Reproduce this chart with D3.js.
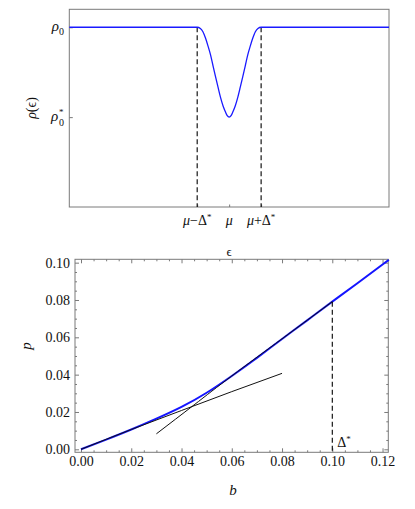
<!DOCTYPE html>
<html>
<head>
<meta charset="utf-8">
<script src="https://cdn.jsdelivr.net/npm/d3@7"></script>
<style>
  body { margin: 0; background: #fff; }
  svg text { font-family: "Liberation Serif", "Times New Roman", Times, "DejaVu Serif", serif; fill: #111; }
</style>
</head>
<body>
<svg id="graph" width="415" height="509"></svg>
<script>
(function() {

// ---- top panel: rho(eps), eps in units of Delta* around mu, rho0 = 1, rho0* = 0.5
const epsVals = [-5, -1, -0.9, -0.82, -0.74, -0.66, -0.58, -0.51, -0.43, -0.35, -0.27, -0.19, -0.12, -0.06, 0,
                 0.06, 0.12, 0.19, 0.27, 0.35, 0.43, 0.51, 0.58, 0.66, 0.74, 0.82, 0.9, 1, 5];
const rhoVals = [1, 1, 0.993, 0.975, 0.94, 0.895, 0.845, 0.79, 0.728, 0.668, 0.61, 0.562, 0.531, 0.508, 0.5,
                 0.508, 0.531, 0.562, 0.61, 0.668, 0.728, 0.79, 0.845, 0.895, 0.94, 0.975, 0.993, 1, 1];
const epsTicks = [-1, 0, 1];
const rhoTicks = [0.5, 1];

// ---- bottom panel: p(b)
const bVals = [0, 0.01, 0.02, 0.03, 0.04, 0.05, 0.06, 0.07, 0.08, 0.09, 0.10, 0.11, 0.12, 0.1225];
const pVals = [0, 0.0052, 0.0106, 0.0164, 0.0227, 0.0303, 0.0393, 0.0490, 0.0591, 0.0691, 0.0791, 0.0890, 0.0990, 0.1015];
const lowB = [0, 0.02, 0.04, 0.06, 0.08];
const lowP = [0, 0.0106, 0.0208, 0.0309, 0.0407];
const highB = [0.03, 0.045, 0.06, 0.08, 0.10];
const highP = [0.0083, 0.0238, 0.0393, 0.0592, 0.0791];
const deltaStar = 0.10;
const bTicks = [0, 0.02, 0.04, 0.06, 0.08, 0.10, 0.12];
const pTicks = [0, 0.02, 0.04, 0.06, 0.08, 0.10];

const svg = d3.select('#graph');
const frameColor = '#7a7a7a';
const serif = '"Liberation Serif", "Times New Roman", Times, "DejaVu Serif", serif';
const fmt = d3.format('.2f');

// ================= top panel =================
const tx = d3.scaleLinear().domain([-5, 5]).range([69.3, 389]);
const ty = d3.scaleLinear().domain([0, 1.1]).range([207, 9.3]);

const top = svg.append('g');

top.append('rect')
  .attr('x', tx.range()[0]).attr('y', ty.range()[1])
  .attr('width', tx.range()[1] - tx.range()[0])
  .attr('height', ty.range()[0] - ty.range()[1])
  .attr('fill', 'none').attr('stroke', frameColor).attr('stroke-width', 1);

top.append('g')
  .attr('transform', `translate(0,${ty.range()[0]})`)
  .call(d3.axisBottom(tx).tickValues(epsTicks).tickSize(-2.5).tickFormat(''))
  .call(g => g.select('.domain').remove())
  .selectAll('line').attr('stroke', frameColor);

top.append('g')
  .attr('transform', `translate(${tx.range()[0]},0)`)
  .call(d3.axisLeft(ty).tickValues(rhoTicks).tickSize(-3.5).tickFormat(''))
  .call(g => g.select('.domain').remove())
  .selectAll('line').attr('stroke', frameColor);

// dashed markers at mu +/- Delta*
top.selectAll('.vdash')
  .data([-1, 1])
  .enter().append('line')
    .attr('x1', d => tx(d)).attr('x2', d => tx(d))
    .attr('y1', ty(1)).attr('y2', ty.range()[0])
    .attr('stroke', '#000').attr('stroke-width', 1.1)
    .attr('stroke-dasharray', '5,3');

const rhoLine = d3.line()
  .x((d, i) => tx(epsVals[i]))
  .y(d => ty(d))
  .curve(d3.curveMonotoneX);

top.append('path')
  .datum(rhoVals)
  .attr('d', rhoLine)
  .attr('fill', 'none').attr('stroke', '#1a1aff').attr('stroke-width', 1.3);

// eps tick labels
const epsLabels = [
  {v: -1, parts: [['μ', 'italic'], ['−Δ', 'normal'], ['*', 'sup']]},
  {v: 0, parts: [['μ', 'italic']]},
  {v: 1, parts: [['μ', 'italic'], ['+Δ', 'normal'], ['*', 'sup']]}
];
epsLabels.forEach(l => {
  const t = top.append('text')
    .attr('x', tx(l.v)).attr('y', 225)
    .attr('text-anchor', 'middle').style('font-size', '14px');
  l.parts.forEach(p => {
    const s = t.append('tspan').text(p[0]);
    if (p[1] === 'italic') s.style('font-style', 'italic');
    if (p[1] === 'sup') s.style('font-size', '9px').attr('dy', -5);
  });
});

// rho tick labels
top.append('text')
  .attr('x', 64).attr('y', ty(1) + 4)
  .attr('text-anchor', 'end').style('font-size', '15px')
  .call(t => {
    t.append('tspan').text('ρ').style('font-style', 'italic');
    t.append('tspan').text('0').style('font-size', '10px').attr('dy', 4);
  });

top.append('text')
  .attr('x', 51).attr('y', ty(0.5) + 4)
  .style('font-size', '15px').style('font-style', 'italic')
  .text('ρ');
top.append('text')
  .attr('x', 59).attr('y', ty(0.5) + 9)
  .style('font-size', '10px')
  .text('0');
top.append('text')
  .attr('x', 59).attr('y', ty(0.5) - 2.5)
  .style('font-size', '9px')
  .text('*');

top.append('text')
  .attr('transform', 'translate(36,108) rotate(-90)')
  .attr('text-anchor', 'middle').style('font-size', '14px')
  .call(t => {
    t.append('tspan').text('ρ').style('font-style', 'italic');
    t.append('tspan').text('(ϵ)');
  });

top.append('text')
  .attr('x', tx(0)).attr('y', 256)
  .attr('text-anchor', 'middle').style('font-size', '13px')
  .text('ϵ');

// ================= bottom panel =================
const x = d3.scaleLinear().domain([-0.00239, 0.12229]).range([75, 388.3]);
const y = d3.scaleLinear().domain([-0.0016, 0.1018]).range([452.3, 259.3]);

const bot = svg.append('g');

bot.append('rect')
  .attr('x', x.range()[0]).attr('y', y.range()[1])
  .attr('width', x.range()[1] - x.range()[0])
  .attr('height', y.range()[0] - y.range()[1])
  .attr('fill', 'none').attr('stroke', frameColor).attr('stroke-width', 1);

const minorB = d3.range(0, 0.1226, 0.005).filter(v => Math.abs(v / 0.02 - Math.round(v / 0.02)) > 1e-6);
const minorP = d3.range(0, 0.1016, 0.005).filter(v => Math.abs(v / 0.02 - Math.round(v / 0.02)) > 1e-6);

function styleAxis(g) {
  g.attr('font-family', null);
  g.select('.domain').remove();
  g.selectAll('line').attr('stroke', frameColor);
  g.selectAll('text')
    .style('font-family', serif)
    .style('font-size', '14px')
    .attr('fill', '#111');
}

// bottom
bot.append('g').attr('transform', `translate(0,${y.range()[0]})`)
  .call(d3.axisBottom(x).tickValues(bTicks).tickSize(-4).tickPadding(4).tickFormat(fmt))
  .call(styleAxis);
bot.append('g').attr('transform', `translate(0,${y.range()[0]})`)
  .call(d3.axisBottom(x).tickValues(minorB).tickSize(-2).tickFormat(''))
  .call(styleAxis);
// top
bot.append('g').attr('transform', `translate(0,${y.range()[1]})`)
  .call(d3.axisTop(x).tickValues(bTicks).tickSize(-4).tickFormat(''))
  .call(styleAxis);
bot.append('g').attr('transform', `translate(0,${y.range()[1]})`)
  .call(d3.axisTop(x).tickValues(minorB).tickSize(-2).tickFormat(''))
  .call(styleAxis);
// left
bot.append('g').attr('transform', `translate(${x.range()[0]},0)`)
  .call(d3.axisLeft(y).tickValues(pTicks).tickSize(-4).tickPadding(5).tickFormat(fmt))
  .call(styleAxis);
bot.append('g').attr('transform', `translate(${x.range()[0]},0)`)
  .call(d3.axisLeft(y).tickValues(minorP).tickSize(-2).tickFormat(''))
  .call(styleAxis);
// right
bot.append('g').attr('transform', `translate(${x.range()[1]},0)`)
  .call(d3.axisRight(y).tickValues(pTicks).tickSize(-4).tickFormat(''))
  .call(styleAxis);
bot.append('g').attr('transform', `translate(${x.range()[1]},0)`)
  .call(d3.axisRight(y).tickValues(minorP).tickSize(-2).tickFormat(''))
  .call(styleAxis);

const plot = bot.append('g');

plot.append('path')
  .datum(pVals)
  .attr('d', d3.line().x((d, i) => x(bVals[i])).y(d => y(d)).curve(d3.curveNatural))
  .attr('fill', 'none').attr('stroke', '#1414ff').attr('stroke-width', 2);

plot.append('path')
  .datum(lowP)
  .attr('d', d3.line().x((d, i) => x(lowB[i])).y(d => y(d)).curve(d3.curveNatural))
  .attr('fill', 'none').attr('stroke', '#111').attr('stroke-width', 1);

plot.append('path')
  .datum(highP)
  .attr('d', d3.line().x((d, i) => x(highB[i])).y(d => y(d)).curve(d3.curveNatural))
  .attr('fill', 'none').attr('stroke', '#111').attr('stroke-width', 1);

plot.append('line')
  .attr('x1', x(deltaStar)).attr('x2', x(deltaStar))
  .attr('y1', y(highP[highP.length - 1])).attr('y2', y.range()[0])
  .attr('stroke', '#000').attr('stroke-width', 1.1)
  .attr('stroke-dasharray', '5,3');

plot.append('text')
  .attr('x', x(deltaStar) + 5).attr('y', 447)
  .style('font-size', '14px')
  .call(t => {
    t.append('tspan').text('Δ');
    t.append('tspan').text('*').style('font-size', '9px').attr('dy', -5);
  });

bot.append('text')
  .attr('transform', 'translate(31,346) rotate(-90)')
  .attr('text-anchor', 'middle').style('font-size', '15px').style('font-style', 'italic')
  .text('p');

bot.append('text')
  .attr('x', 233).attr('y', 495)
  .attr('text-anchor', 'middle').style('font-size', '15px').style('font-style', 'italic')
  .text('b');

})();
</script>
</body>
</html>
